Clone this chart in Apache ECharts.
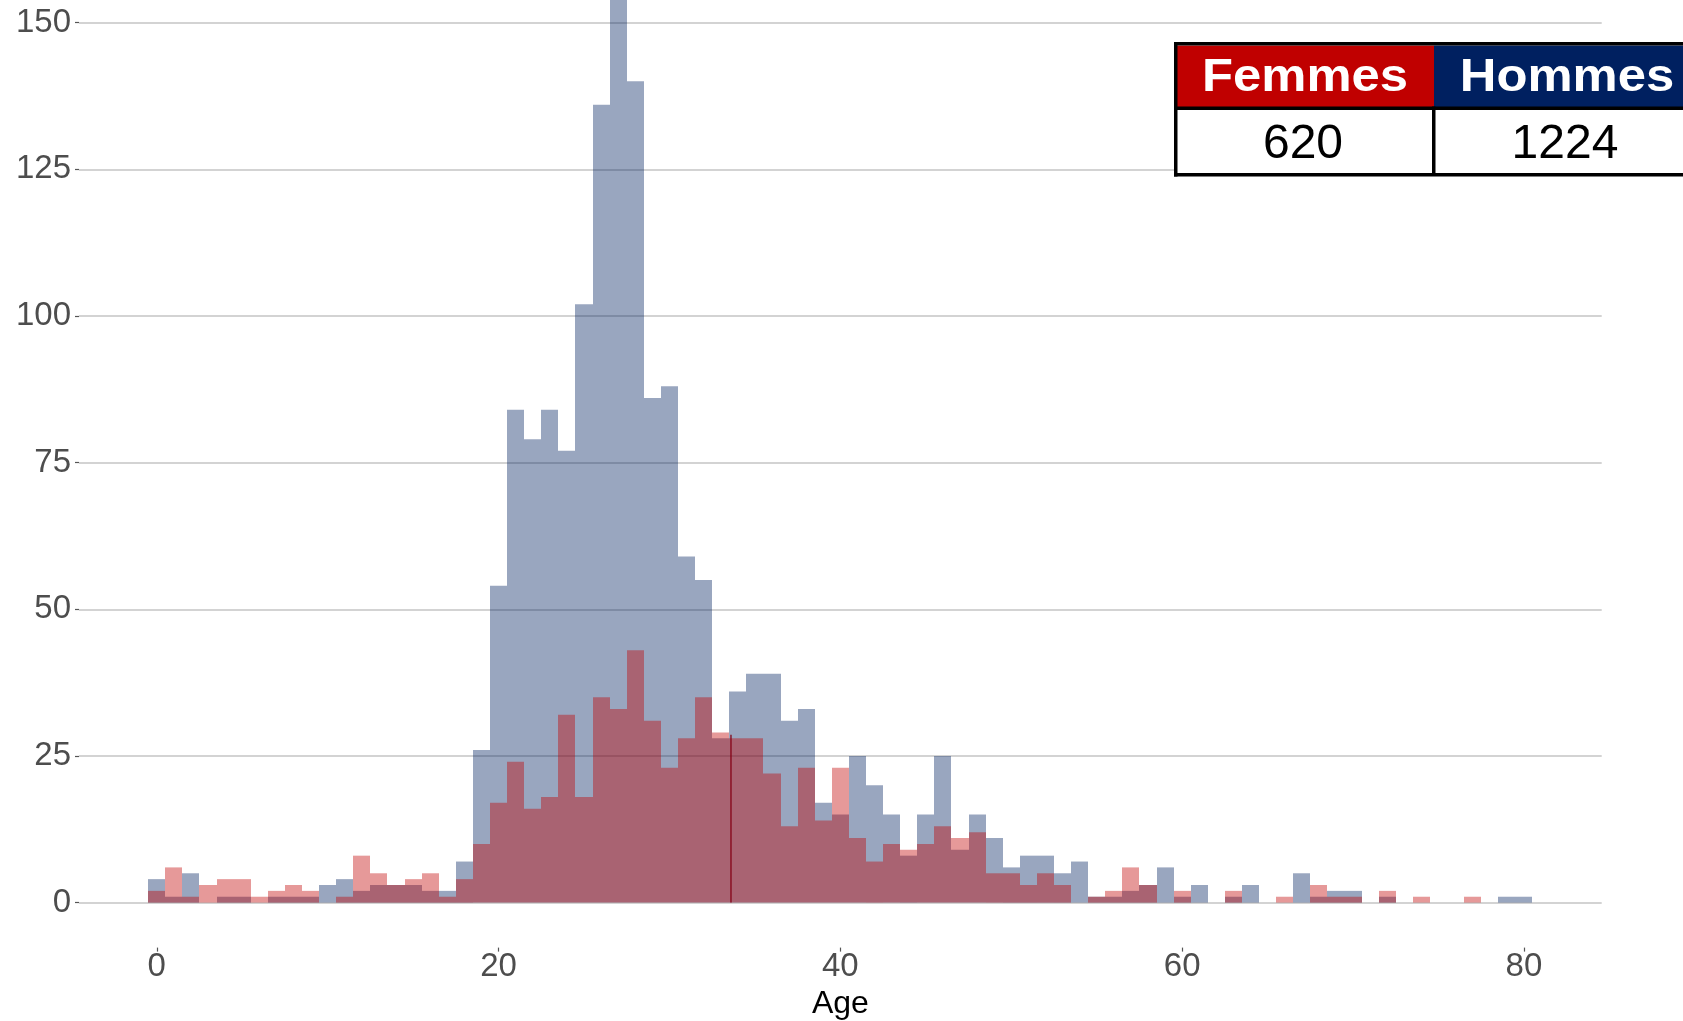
<!DOCTYPE html>
<html>
<head>
<meta charset="utf-8">
<script src="https://cdn.jsdelivr.net/npm/echarts@6/dist/echarts.min.js"></script>
<style>
html,body{margin:0;padding:0;background:#ffffff;}
#chart{width:1683px;height:1021px;}
</style>
</head>
<body>
<div id="chart"></div>
<script>
// ---- data ----
const ages = [];
for (let a = 0; a <= 80; a++) ages.push(a);

const hommes = [
  4, 1, 5, 0, 1, 1, 0, 1, 1, 1,
  3, 4, 2, 3, 3, 3, 2, 2, 7, 26,
  54, 84, 79, 84, 77, 102, 136, 165, 140, 86,
  88, 59, 55, 28, 36, 39, 39, 31, 33, 17,
  15, 25, 20, 15, 8, 15, 25, 9, 15, 11,
  6, 8, 8, 5, 7, 1, 1, 2, 3, 6,
  1, 3, 0, 1, 3, 0, 0, 5, 1, 2,
  2, 0, 1, 0, 0, 0, 0, 0, 0, 1,
  1
];
const femmes = [
  2, 6, 1, 3, 4, 4, 1, 2, 3, 2,
  0, 1, 8, 5, 3, 4, 5, 1, 4, 10,
  17, 24, 16, 18, 32, 18, 35, 33, 43, 31,
  23, 28, 35, 29, 28, 28, 22, 13, 23, 14,
  23, 11, 7, 10, 9, 10, 13, 11, 12, 5,
  5, 3, 5, 3, 0, 1, 2, 6, 3, 0,
  2, 0, 0, 2, 0, 0, 1, 0, 3, 1,
  1, 0, 2, 0, 1, 0, 0, 1, 0, 0,
  0
];
const xTicks = [0, 20, 40, 60, 80];
const yTicks = [0, 25, 50, 75, 100, 125, 150];
const femmesLine = [[33.6, 0], [33.6, 28.6]];
const tableHeaders = ['Femmes', 'Hommes'];
const tableValues = ['620', '1224'];

// ---- chart ----
const chart = echarts.init(document.getElementById('chart'), null, {renderer: 'canvas'});

function histSeries(name, values, color, z) {
  return {
    type: 'custom',
    name: name,
    z: z,
    clip: false,
    data: ages.map((a, i) => [a, values[i]]),
    encode: {x: 0, y: 1},
    renderItem: function (params, api) {
      const a = api.value(0);
      const v = api.value(1);
      if (!v) return null;
      const p0 = api.coord([a - 0.5, v]);
      const p1 = api.coord([a + 0.5, 0]);
      const x0 = Math.round(p0[0]);
      const x1 = Math.round(p1[0]);
      return {
        type: 'rect',
        shape: {x: x0, y: p0[1], width: x1 - x0, height: p1[1] - p0[1]},
        style: {fill: color}
      };
    }
  };
}

const FONT = "'Liberation Sans', Arial, Helvetica, sans-serif";

// table geometry
const tL = 1174, tTop = 42, bw = 3.5;
const colW = [260, 282];
const headH = 62, rowH = 63;
const col2X = tL + colW[0];
const tRight = col2X + colW[1];
const headTop = tTop + bw;
const divY = headTop + headH - 1;
const rowTop = divY + bw;
const botY = rowTop + rowH;

const graphics = [
  {type: 'rect', shape: {x: tL, y: tTop, width: tRight - tL, height: botY + bw - tTop}, style: {fill: '#ffffff'}, z: 100},
  {type: 'rect', shape: {x: tL, y: headTop, width: colW[0], height: headH}, style: {fill: '#C00000'}, z: 101},
  {type: 'rect', shape: {x: col2X, y: headTop, width: colW[1], height: headH}, style: {fill: '#002060'}, z: 101},
  {type: 'rect', shape: {x: tL, y: tTop, width: tRight - tL, height: bw}, style: {fill: '#000000'}, z: 102},
  {type: 'rect', shape: {x: tL, y: divY, width: tRight - tL, height: bw}, style: {fill: '#000000'}, z: 102},
  {type: 'rect', shape: {x: tL, y: botY, width: tRight - tL, height: bw}, style: {fill: '#000000'}, z: 102},
  {type: 'rect', shape: {x: tL, y: tTop, width: bw, height: botY + bw - tTop}, style: {fill: '#000000'}, z: 102},
  {type: 'rect', shape: {x: col2X - 2, y: divY, width: bw, height: botY - divY}, style: {fill: '#000000'}, z: 102}
];
const colCenters = [1305, 1567];
tableHeaders.forEach((h, i) => {
  graphics.push({
    type: 'text', x: colCenters[i], y: headTop + headH / 2 + 2, scaleX: 1.08, z: 103,
    style: {text: h, fill: '#ffffff', font: 'bold 47px ' + FONT, textAlign: 'center', textVerticalAlign: 'middle'}
  });
  graphics.push({
    type: 'text', x: colCenters[i] - 2, y: rowTop + rowH / 2 + 3, z: 103,
    style: {text: tableValues[i], fill: '#000000', font: '48px ' + FONT, textAlign: 'center', textVerticalAlign: 'middle'}
  });
});

const option = {
  backgroundColor: '#ffffff',
  animation: false,
  grid: {left: 79, right: 81.3, top: 0, bottom: 118.4, containLabel: false, outerBoundsMode: 'none'},
  xAxis: {
    type: 'value',
    min: -4.55,
    max: 84.55,
    offset: 45,
    axisLine: {show: false, onZero: false},
    axisTick: {show: true, customValues: xTicks, length: 4, lineStyle: {color: '#555555', width: 1.2}},
    axisLabel: {customValues: xTicks, fontSize: 33, color: '#4d4d4d', margin: 3, fontFamily: FONT},
    splitLine: {show: false},
    name: 'Age',
    nameLocation: 'middle',
    nameGap: 33,
    nameTextStyle: {fontSize: 32, color: '#000000', fontFamily: FONT}
  },
  yAxis: {
    type: 'value',
    min: 0,
    max: 153.85,
    interval: 25,
    axisLine: {show: false, onZero: false},
    axisTick: {show: true, customValues: yTicks, length: 4, lineStyle: {color: '#555555', width: 1.2}},
    axisLabel: {customValues: yTicks, fontSize: 33, color: '#4d4d4d', margin: 8, fontFamily: FONT},
    splitLine: {show: true, lineStyle: {color: '#c4c4c4', width: 1.5}}
  },
  series: [
    histSeries('Hommes', hommes, 'rgba(0,32,96,0.4)', 2),
    histSeries('Femmes', femmes, 'rgba(192,0,0,0.4)', 3),
    {
      type: 'line', name: 'Femmes moyenne', data: femmesLine, z: 4,
      showSymbol: false, symbol: 'none',
      lineStyle: {color: 'rgba(130,0,20,0.85)', width: 1.5}
    }
  ],
  graphic: graphics
};
chart.setOption(option);
</script>
</body>
</html>
